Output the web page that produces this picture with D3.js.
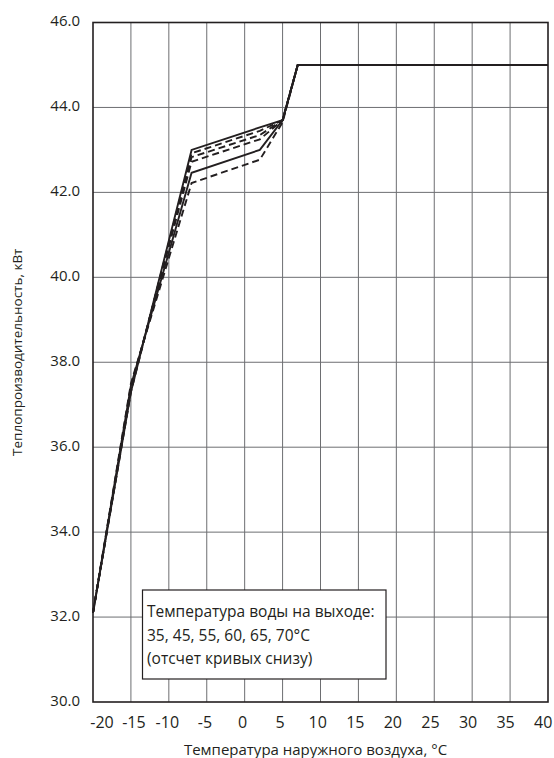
<!DOCTYPE html>
<html><head><meta charset="utf-8">
<script src="https://cdn.jsdelivr.net/npm/d3@7"></script>
<style>
body{margin:0;background:#fff;}
text{font-family:"Open Sans",sans-serif;fill:#231f20;}
</style></head>
<body><svg id="c" width="554" height="758"></svg>
<script>
const temps = [-20, -15, -7, 2, 5, 7, 40];
const s35 = [32.1, 37.5, 42.22, 42.77, 43.65, 45.0, 45.0];
const s45 = [32.1, 37.45, 42.46, 43.0, 43.7, 45.0, 45.0];
const s55 = [32.1, 37.4, 42.72, 43.25, 43.7, 45.0, 45.0];
const s60 = [32.1, 37.35, 42.83, 43.35, 43.7, 45.0, 45.0];
const s65 = [32.1, 37.3, 42.92, 43.45, 43.7, 45.0, 45.0];
const s70 = [32.1, 37.3, 43.0, 43.53, 43.7, 45.0, 45.0];
const seriesNames = ["35", "45", "55", "60", "65", "70"];
const seriesDashed = [true, false, true, true, true, false];
const xTicks = [-20, -15, -10, -5, 0, 5, 10, 15, 20, 25, 30, 35, 40];
const yTicks = [30, 32, 34, 36, 38, 40, 42, 44, 46];
const legendLines = ["Температура воды на выходе:", "35, 45, 55, 60, 65, 70°C", "(отсчет кривых снизу)"];
const xTitle = "Температура наружного воздуха, °C";
const yTitle = "Теплопроизводительность, кВт";

const series = [s35, s45, s55, s60, s65, s70];
const svg = d3.select("#c");
const L = 93, R = 548, T = 22.5, B = 702;
const x = d3.scaleLinear().domain([-20, 40]).range([L, R]);
const y = d3.scaleLinear().domain([30, 46]).range([B, T]);
// tick labels are set slightly left of the grid, and the first ones nudged right
const xLab = d3.scaleLinear().domain([-20, -15, -10, 40])
  .range([x(-20) + 8.5, x(-15) + 2.5, x(-10) - 2, x(40) - 5.3]);

// grid
svg.append("g").selectAll("line").data(xTicks.slice(1, -1)).join("line")
  .attr("x1", d => x(d)).attr("x2", d => x(d)).attr("y1", T).attr("y2", B)
  .attr("stroke", "#6d6e71").attr("stroke-width", 1);
svg.append("g").selectAll("line").data(yTicks.slice(1, -1)).join("line")
  .attr("y1", d => y(d)).attr("y2", d => y(d)).attr("x1", L).attr("x2", R)
  .attr("stroke", "#6d6e71").attr("stroke-width", 1);

// curves
const line = d3.line().x((d, i) => x(temps[i])).y(d => y(d));
series.forEach((s, k) => {
  svg.append("path").attr("d", line(s)).attr("fill", "none")
    .attr("stroke", "#231f20").attr("stroke-width", 1.9)
    .attr("stroke-linejoin", "miter")
    .attr("stroke-dasharray", seriesDashed[k] ? "7,4" : null);
});

// frame
svg.append("rect").attr("x", L).attr("y", T).attr("width", R - L).attr("height", B - T)
  .attr("fill", "none").attr("stroke", "#231f20").attr("stroke-width", 1.6);

// axes
const xa = svg.append("g").attr("transform", `translate(0,${B})`)
  .call(d3.axisBottom(xLab).tickValues(xTicks).tickSize(0).tickPadding(15).tickFormat(d => String(d)));
xa.select(".domain").remove();
xa.selectAll("text").attr("font-size", 16).attr("fill", "#231f20").style("font-family", '"Open Sans",sans-serif');
const ya = svg.append("g").attr("transform", `translate(${L},0)`)
  .call(d3.axisLeft(y).tickValues(yTicks).tickSize(0).tickPadding(13).tickFormat(d3.format(".1f")));
ya.select(".domain").remove();
ya.selectAll("text").attr("font-size", 15).attr("dy", "0.2em").attr("fill", "#231f20").style("font-family", '"Open Sans",sans-serif');

// titles
svg.append("text").attr("x", (L + R) / 2 - 5).attr("y", 755).attr("text-anchor", "middle")
  .attr("font-size", 15).text(xTitle);
svg.append("text").attr("transform", `translate(22,${(T + B) / 2 - 10}) rotate(-90)`)
  .attr("text-anchor", "middle").attr("font-size", 13.5).text(yTitle);

// legend box
const lg = svg.append("g");
lg.append("rect").attr("x", 142.5).attr("y", 590).attr("width", 243.5).attr("height", 89)
  .attr("fill", "#fff").attr("stroke", "#231f20").attr("stroke-width", 1.2);
lg.selectAll("text").data(legendLines).join("text")
  .attr("x", 147).attr("y", (d, i) => 617 + i * 23.5)
  .attr("font-size", 15.5).text(d => d);
</script></body></html>
